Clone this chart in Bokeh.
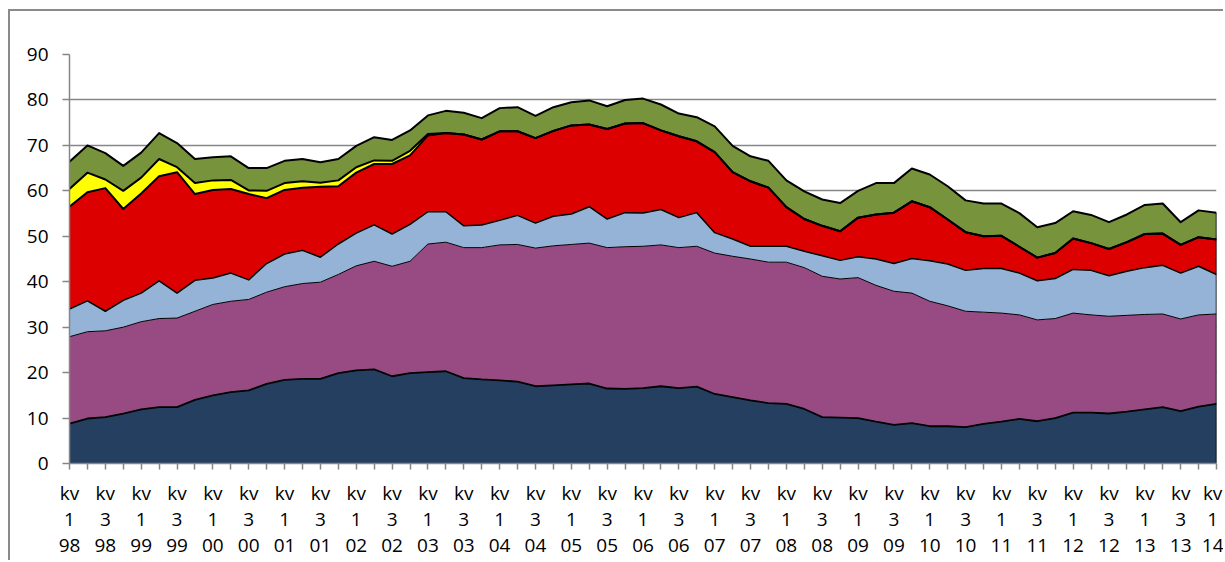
import numpy as np
from bokeh.plotting import figure
from bokeh.models import ColumnDataSource, FixedTicker, Range1d
from bokeh.embed import file_html
from bokeh.resources import INLINE

# quarters kv1 1998 ... kv1 2014
quarters = list(range(65))
years = ["98", "99", "00", "01", "02", "03", "04", "05", "06", "07",
         "08", "09", "10", "11", "12", "13", "14"]
quarter_names = ["1", "2", "3", "4"]

s_navy = [8.8, 9.9, 10.2, 11.0, 11.9, 12.4, 12.4, 14.0, 15.0, 15.7, 16.1, 17.5, 18.4,
          18.6, 18.6, 19.9, 20.5, 20.7, 19.2, 19.9, 20.1, 20.3, 18.8, 18.5, 18.3, 18.0,
          17.0, 17.2, 17.4, 17.6, 16.5, 16.4, 16.6, 17.0, 16.6, 16.9, 15.3, 14.6, 13.9,
          13.3, 13.1, 12.0, 10.2, 10.1, 10.0, 9.2, 8.5, 8.9, 8.2, 8.2, 8.0, 8.7, 9.2,
          9.8, 9.3, 10.0, 11.2, 11.2, 11.0, 11.4, 11.9, 12.4, 11.5, 12.5, 13.1]
s_purple = [19.1, 19.1, 19.0, 19.0, 19.3, 19.5, 19.6, 19.5, 20.0, 20.0, 20.0, 20.2, 20.5,
            21.0, 21.3, 21.7, 23.0, 23.8, 24.2, 24.6, 28.2, 28.4, 28.7, 29.0, 29.8, 30.2,
            30.4, 30.7, 30.8, 30.9, 31.0, 31.3, 31.2, 31.1, 30.9, 30.9, 31.0, 31.0, 31.1,
            31.0, 31.2, 31.1, 31.0, 30.5, 30.9, 30.0, 29.4, 28.6, 27.5, 26.5, 25.5, 24.6,
            23.9, 22.9, 22.3, 21.9, 21.9, 21.5, 21.4, 21.2, 20.9, 20.5, 20.3, 20.2, 19.8]
s_lightblue = [6.1, 6.8, 4.3, 5.9, 6.3, 8.3, 5.5, 6.8, 5.8, 6.2, 4.3, 6.3, 7.2, 7.3, 5.5,
               6.7, 7.2, 8.0, 7.1, 8.1, 7.1, 6.7, 4.8, 5.0, 5.4, 6.4, 5.5, 6.5, 6.7, 8.0,
               6.3, 7.5, 7.3, 7.8, 6.6, 7.4, 4.5, 3.8, 2.8, 3.5, 3.5, 3.6, 4.5, 4.1, 4.6,
               5.8, 6.1, 7.6, 8.9, 9.2, 9.0, 9.6, 9.8, 9.2, 8.6, 8.8, 9.6, 9.8, 8.9, 9.7,
               10.3, 10.7, 10.1, 10.7, 8.7]
s_red = [22.5, 23.9, 27.1, 20.1, 21.9, 23.0, 26.6, 19.0, 19.4, 18.5, 18.9, 14.4, 14.1,
         13.8, 15.5, 12.7, 13.3, 13.4, 15.4, 15.2, 16.8, 17.3, 20.1, 18.8, 19.6, 18.5,
         18.7, 18.8, 19.5, 18.1, 19.8, 19.6, 19.8, 17.4, 17.9, 15.7, 17.7, 14.7, 14.3,
         12.9, 8.6, 7.1, 6.6, 6.4, 8.6, 9.8, 11.2, 12.6, 11.8, 9.8, 8.4, 7.1, 7.2, 5.8,
         5.1, 5.6, 6.8, 6.0, 5.9, 6.4, 7.4, 7.0, 6.2, 6.4, 7.7]
s_yellow = [3.9, 4.3, 1.9, 4.0, 3.5, 3.8, 1.1, 2.4, 2.1, 2.0, 0.8, 1.6, 1.5, 1.4, 0.9,
            1.3, 1.2, 0.8, 0.7, 1.0, 0.3, 0.0, 0.0, 0.0, 0.0, 0.0, 0.0, 0.0, 0.0, 0.0,
            0.0, 0.0, 0.0, 0.0, 0.0, 0.0, 0.0, 0.0, 0.0, 0.0, 0.0, 0.0, 0.0, 0.0, 0.0,
            0.0, 0.0, 0.0, 0.0, 0.0, 0.0, 0.0, 0.0, 0.0, 0.0, 0.0, 0.0, 0.0, 0.0, 0.0,
            0.0, 0.0, 0.0, 0.0, 0.0]
s_green = [6.0, 6.0, 5.8, 5.5, 5.5, 5.7, 5.3, 5.3, 5.1, 5.2, 4.9, 5.0, 4.9, 4.9, 4.5,
           4.7, 4.7, 5.1, 4.6, 4.5, 4.1, 4.9, 4.8, 4.7, 5.1, 5.3, 4.9, 5.2, 5.1, 5.3,
           5.0, 5.2, 5.4, 5.7, 5.0, 5.3, 5.7, 5.8, 5.5, 5.9, 5.9, 6.1, 5.8, 6.2, 5.9,
           6.9, 6.5, 7.2, 7.2, 7.3, 7.0, 7.2, 7.1, 7.4, 6.7, 6.6, 6.0, 6.2, 5.9, 6.1,
           6.4, 6.6, 5.0, 5.9, 5.9]

series_names = ["navy", "purple", "lightblue", "red", "yellow", "green"]
series_values = [s_navy, s_purple, s_lightblue, s_red, s_yellow, s_green]
fill_colors = ["#253F60", "#984B82", "#95B3D7", "#DD0000", "#FFFF00", "#77933C"]
edge_widths = [1.8, 1.0, 1.5, 2.0, 2.0, 2.0]

data = {"x": quarters}
for n, v in zip(series_names, series_values):
    data[n] = v
cum = np.cumsum(np.array(series_values), axis=0)
for n, c in zip(series_names, cum):
    data[n + "_top"] = c
source = ColumnDataSource(data)

# tick labels every second quarter
labels = {}
for i in quarters:
    if i % 2 == 0:
        labels[i] = "kv\n" + quarter_names[i % 4] + "\n" + years[i // 4]

p = figure(width=1215, height=551, output_backend="svg", toolbar_location=None,
           x_range=Range1d(0, 64), y_range=Range1d(0, 90),
           min_border_left=59, min_border_right=9, min_border_top=43,
           min_border_bottom=99)
p.outline_line_color = None
p.background_fill_color = "white"
p.border_fill_color = "white"
p.styles = {"border-top": "2px solid #8a8a8a", "border-left": "2px solid #8a8a8a",
            "margin-left": "8px", "margin-top": "9px"}

p.varea_stack(stackers=series_names, x="x", color=fill_colors, source=source)
for n, w in zip(series_names, edge_widths):
    p.line(x="x", y=n + "_top", source=source, line_color="black", line_width=w,
           line_join="round")
# right closing edge of the area polygons
p.segment(x0=[quarters[-1]], y0=[0], x1=[quarters[-1]], y1=[cum[-1][-1]],
          line_color="black", line_width=1.5)

grey = "#868686"
font = "Open Sans"

p.xgrid.visible = False
p.ygrid.ticker = FixedTicker(ticks=list(range(0, 91, 10)))
p.ygrid.grid_line_color = grey
p.ygrid.grid_line_width = 1.5

p.yaxis.ticker = FixedTicker(ticks=list(range(0, 91, 10)))
p.yaxis.axis_line_color = grey
p.yaxis.axis_line_width = 1.5
p.yaxis.major_tick_line_color = grey
p.yaxis.major_tick_line_width = 1.5
p.yaxis.major_tick_out = 7
p.yaxis.major_tick_in = 0
p.yaxis.minor_tick_line_color = None
p.yaxis.major_label_text_font = font
p.yaxis.major_label_text_font_size = "19px"
p.yaxis.major_label_text_color = "black"
p.yaxis.major_label_standoff = 14

p.xaxis.ticker = FixedTicker(ticks=[q for q in quarters if q % 2 == 0],
                             minor_ticks=[q for q in quarters if q % 2 == 1])
p.xaxis.major_label_overrides = labels
p.xaxis.axis_line_color = grey
p.xaxis.axis_line_width = 1.5
p.xaxis.major_tick_line_color = grey
p.xaxis.major_tick_line_width = 1.5
p.xaxis.minor_tick_line_color = grey
p.xaxis.minor_tick_line_width = 1.5
p.xaxis.major_tick_out = 6
p.xaxis.major_tick_in = 0
p.xaxis.minor_tick_out = 6
p.xaxis.minor_tick_in = 0
p.xaxis.major_label_text_font = font
p.xaxis.major_label_text_font_size = "19px"
p.xaxis.major_label_text_color = "black"
p.xaxis.major_label_text_line_height = 1.0
p.xaxis.major_label_standoff = 10

open("out.html", "w").write(file_html(p, INLINE))
